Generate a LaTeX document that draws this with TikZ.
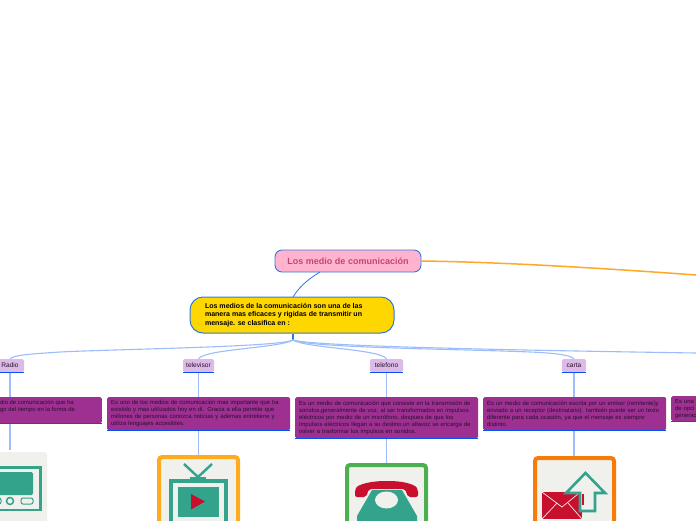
\documentclass[tikz,border=0pt]{standalone}
\usepackage{fontspec}
\setmainfont{Liberation Sans}
\usetikzlibrary{positioning, calc}
\definecolor{ink}{HTML}{2A0F2C}
\definecolor{softrose}{HTML}{FFB3CF}
\definecolor{rosetext}{HTML}{C4447A}
\definecolor{gold}{HTML}{FFD700}
\definecolor{lilac}{HTML}{DDBBE8}
\definecolor{plum}{HTML}{9E3092}
\definecolor{edgeblue}{HTML}{2F78E4}
\definecolor{linkblue}{HTML}{9DBDFA}
\definecolor{underblue}{HTML}{0A50F0}
\definecolor{amberline}{HTML}{FFA726}
\definecolor{tile}{HTML}{F0F0EC}
\definecolor{teal}{HTML}{33A38C}
\definecolor{iconred}{HTML}{C8102E}
\definecolor{tvframe}{HTML}{FFAB1E}
\definecolor{phoneframe}{HTML}{4CAF50}
\definecolor{mailframe}{HTML}{F57C0A}
\tikzset{
  rootnode/.style={draw=edgeblue, fill=softrose, rounded corners=7pt, line width=.9pt, minimum width=146pt, minimum height=22pt, inner sep=0pt, font=\bfseries\fontsize{9}{10}\selectfont, text=rosetext},
  mainnode/.style={draw=edgeblue, fill=gold, rounded corners=13pt, line width=1pt, minimum width=204pt, minimum height=36pt, inner sep=0pt, align=left, font=\bfseries\fontsize{7.05}{8.3}\selectfont},
  topicnode/.style={fill=lilac, rounded corners=1.5pt, minimum height=13pt, inner sep=0pt, text=ink, font=\fontsize{6.6}{8}\selectfont},
  descnode/.style={fill=plum, rounded corners=1.5pt, inner sep=0pt, align=left, text=ink, font=\fontsize{5.9}{7}\selectfont},
  under/.style={draw=underblue, line width=1pt},
  link/.style={draw=linkblue, line width=1.1pt},
  tilenode/.style={fill=tile, rounded corners=3pt, minimum size=79pt, inner sep=0pt, line width=4pt},
  tealline/.style={draw=teal, line width=3pt},
}
\begin{document}
\begin{tikzpicture}[x=1pt,y=-1pt]
\useasboundingbox (0,0) rectangle (696,520);
\clip (0,0) rectangle (696,520);
\fill[white] (0,0) rectangle (696,520);

% top of the map
\node[rootnode] (root) at (348,261) {Los medio de comunicación};
\node[mainnode] (main) at (292,315) {\hspace*{-6pt}\parbox{168pt}{Los medios de la comunicación son una de las\\ manera mas eficaces y rigidas de transmitir un\\ mensaje. se clasifica en :}};
\coordinate (amberend) at (696,275);
\coordinate (mainfoot) at (293,340);
\coordinate (rightend) at (696,353);

% topics
\node[topicnode, minimum width=28pt] (radio) at (10,365.5) {Radio};
\node[topicnode, minimum width=31pt] (tv) at (198.5,365.5) {televisor};
\node[topicnode, minimum width=33pt] (phone) at (386.5,365.5) {telefono};
\node[topicnode, minimum width=24pt] (letter) at (574,365.5) {carta};

% descriptions
\node[descnode, minimum width=116pt, minimum height=26pt, anchor=north east] (radiotext) at (102,397) {};
\node[anchor=north west, inner sep=0pt, align=left, text=ink, font=\fontsize{5.9}{7}\selectfont] (radiolines) at (0,400) {dio de comunicación que ha\\ go  del tiempo en la forma de};
\node[descnode, minimum width=183pt, minimum height=33pt, anchor=north west, text width=175pt, inner xsep=4pt] (tvtext) at (107,397) {Es uno de los medios de comunicación mas importante que ha\\ existido y mas utilizados hoy en dí. Gracia a ella permite que\\ millones de personas conozca noticias y ademas entretiene y\\ utiliza lenguajes accesibles.};
\node[descnode, minimum width=183pt, minimum height=41pt, anchor=north west, text width=175pt, inner xsep=4pt] (phonetext) at (295,397) {Es un medio de comunicación que consiste en la transmisión de\\ sonidos,generalmente de voz, al ser transformados en impulsos\\ eléctricos por medio de un micrófono, despues de que los\\ impulsos eléctricos llegan a su destino,un altavoz se encarga de\\ volver a trasformar los impulsos en sonidos.};
\node[descnode, minimum width=183pt, minimum height=33pt, anchor=north west, text width=175pt, inner xsep=4pt] (lettertext) at (483,397) {Es un medio de comunicación escrita por un emisor (remitente)y\\ enviado a un receptor (destinatario). también puede ser un texto\\ diferente para cada ocasión, ya que el mensaje es siempre\\ distinto.};
\node[descnode, minimum width=60pt, minimum height=25pt, anchor=north west, text width=52pt, inner xsep=4pt] (nexttext) at (671,396) {Es una\\ de opci\\ generac};

% tiles, running off the page
\node[tilenode, minimum size=83pt] (radiotile) at (5.5,493.5) {};
\node[tilenode, draw=tvframe] (tvtile) at (198.5,496.5) {};
\node[tilenode, draw=phoneframe] (phonetile) at (386.5,504.5) {};
\node[tilenode, draw=mailframe] (lettertile) at (574.5,497.5) {};

% connectors
\draw[draw=amberline, line width=1.5pt] (root.east) .. controls (500,262) and (600,268) .. (amberend);
\draw[draw=edgeblue, line width=.8pt] (320,272) .. controls (305,281) and (298,289) .. (293,297);
\draw[draw=edgeblue, line width=1.6pt] (main.south -| mainfoot) -- (mainfoot);
\draw[link] (mainfoot) .. controls (280,347) and (120,349) .. (60,352) .. controls (30,354) and (14,355) .. (radio.north);
\draw[link] (mainfoot) .. controls (280,348) and (205,349) .. (tv.north);
\draw[link] (mainfoot) .. controls (305,348) and (380,349) .. (phone.north);
\draw[link] (mainfoot) .. controls (310,348) and (460,349) .. (530,352) .. controls (555,353) and (570,355) .. (letter.north);
\draw[link] (mainfoot) .. controls (310,346) and (500,350) .. (rightend);

\draw[link] (radio.south) -- (radiotext.north -| radio.south);
\draw[link] (radiotext.south -| radio.south) -- (radiotile.north -| radio.south);
\draw[link] (tv.south) -- (tvtext.north -| tv.south);
\draw[link] (tvtext.south -| tv.south) -- (tvtile.north -| tv.south);
\draw[link] (phone.south) -- (phonetext.north -| phone.south);
\draw[link] (phonetext.south -| phone.south) -- (phonetile.north -| phone.south);
\draw[link] (letter.south) -- (lettertext.north -| letter.south);
\draw[link] (lettertext.south -| letter.south) -- (lettertile.north -| letter.south);

% blue rules under the labels
\draw[under] (radio.south west) -- (radio.south east);
\draw[under] (tv.south west) -- (tv.south east);
\draw[under] (phone.south west) -- (phone.south east);
\draw[under] (letter.south west) -- (letter.south east);
\draw[under] (radiotext.south west) -- (radiotext.south east);
\draw[under] (tvtext.south west) -- (tvtext.south east);
\draw[under] (phonetext.south west) -- (phonetext.south east);
\draw[under] (lettertext.south west) -- (lettertext.south east);
\draw[under] (nexttext.south west) -- (nexttext.south east);

% radio icon
\draw[tealline, line width=2.5pt] (-30,467.5) rectangle (40.5,510);
\fill[teal, rounded corners=1.5pt] (-20,472) rectangle (33,495);
\draw[draw=teal, line width=1.5pt] (10,501) circle (3.5);
\draw[draw=teal, line width=1pt, rounded corners=2pt] (21,498) rectangle (33,504);
\draw[draw=teal, line width=1pt, rounded corners=2pt] (-8,498) rectangle (1,504);

% tv icon
\draw[draw=teal, line width=2.4pt] (184,464) -- (198,477) -- (212,464);
\fill[teal] (190,477) rectangle (206,480);
\draw[tealline, line width=4pt] (171,481) rectangle (226,530);
\fill[teal] (178,487) rectangle (218.5,517);
\fill[iconred] (191,494) -- (205,501.5) -- (191,509.5) -- cycle;

% phone icon
\fill[teal] (372,490) -- (402,490) -- (417,516) -- (417,530) -- (357,530) -- (357,516) -- cycle;
\fill[tile] (386.5,500) ellipse (11.5 and 8.5);
\fill[iconred, rounded corners=2pt] (355,497) -- (355,490) .. controls (358,484) and (372,481) .. (387,481) .. controls (402,481) and (415,484) .. (418,490) -- (418,497) -- (408,497) -- (405,489) -- (369,489) -- (366,497) -- cycle;

% letter icon
\fill[iconred] (542,492) rectangle (582,519);
\draw[draw=tile, line width=.7pt] (542,492) -- (562,507) -- (578,494);
\draw[draw=tile, line width=.7pt] (542,519) -- (557,503);
\draw[draw=tile, line width=.7pt] (582,519) -- (568,503);
\filldraw[fill=tile, draw=teal, line width=2.6pt] (585.5,473) -- (605,493) -- (595,493) -- (595,511) -- (580,511) -- (580,493) -- (566,493) -- cycle;
\fill[iconred] (581.5,494) rectangle (583.5,505);
\end{tikzpicture}
\end{document}
